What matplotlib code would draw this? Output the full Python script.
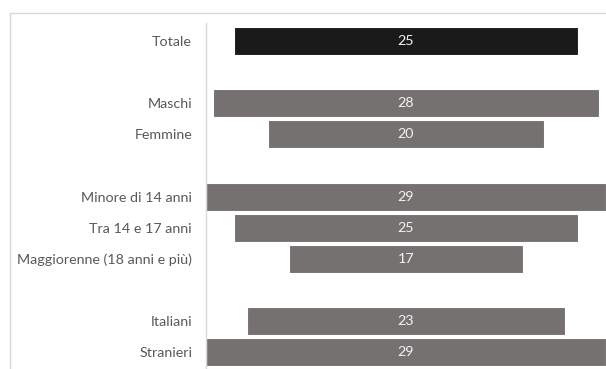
import matplotlib.pyplot as plt
from matplotlib.patches import Rectangle

# rows top to bottom, "" = spacer row
labels = ["Totale", "", "Maschi", "Femmine", "",
          "Minore di 14 anni", "Tra 14 e 17 anni", "Maggiorenne (18 anni e più)", "",
          "Italiani", "Stranieri"]
values = [25, None, 28, 20, None, 29, 25, 17, None, 23, 29]
colors = ["#1a1a1a", None, "#767171", "#767171", None,
          "#767171", "#767171", "#767171", None, "#767171", "#767171"]

plt.rcParams['font.family'] = ['Lato', 'DejaVu Sans']

fig = plt.figure(figsize=(6.06, 3.69), dpi=100)
W, H = 606, 369

# light outer frame of the chart area
fig.patches.append(Rectangle((10 / W, -0.1), 1.2, (H - 13) / H + 0.1,
                             transform=fig.transFigure, fill=False,
                             edgecolor="#d9d9d9", linewidth=1.0))

ax = fig.add_axes([206 / W, 0, 400 / W, (H - 23) / H])

pos = list(range(len(labels)))
for i, v in enumerate(values):
    if v is None:
        continue
    ax.barh(i, v, left=-v / 2, height=0.9, color=colors[i],
            edgecolor="white", linewidth=0.8)
    ax.text(0, i, str(v), ha="center", va="center", color="#f2f2f2", fontsize=10.3)

ax.set_xlim(-14.5, 14.5)
ax.set_ylim(10.546, -0.579)
ax.set_yticks(pos)
ax.set_yticklabels(labels, fontsize=10.3, color="#595959")
ax.tick_params(axis="y", length=0, pad=10)
ax.set_xticks([])
for s in ["top", "right", "bottom"]:
    ax.spines[s].set_visible(False)
ax.spines["left"].set_color("#d9d9d9")
ax.spines["left"].set_linewidth(1.0)

fig.savefig("out.png", dpi=100)
